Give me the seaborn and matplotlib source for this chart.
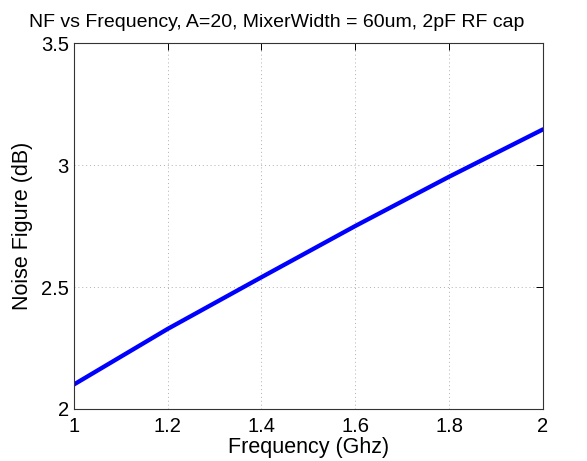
import matplotlib
matplotlib.use("Agg")
import matplotlib.pyplot as plt
import seaborn as sns
import pandas as pd

# values
freq_ghz = [1.0, 1.2, 1.4, 1.6, 1.8, 2.0]
noise_figure_db = [2.10, 2.328, 2.54, 2.75, 2.952, 3.146]
x_ticks = [1, 1.2, 1.4, 1.6, 1.8, 2]
x_tick_labels = ["1", "1.2", "1.4", "1.6", "1.8", "2"]
y_ticks = [2, 2.5, 3, 3.5]
y_tick_labels = ["2", "2.5", "3", "3.5"]

df = pd.DataFrame({"freq": freq_ghz, "nf": noise_figure_db})

sns.set_style("white")
plt.rcParams["font.family"] = ["Liberation Sans", "DejaVu Sans"]
plt.rcParams["text.color"] = "black"
plt.rcParams["axes.labelcolor"] = "black"

fig = plt.figure(figsize=(5.87, 4.61), dpi=100)
ax = fig.add_axes([0.1256, 0.1128, 0.7994, 0.7939])

sns.lineplot(data=df, x="freq", y="nf", color="#0000ff", linewidth=3.1, ax=ax)

ax.set_xlim(1, 2)
ax.set_ylim(2, 3.5)
ax.set_xticks(x_ticks)
ax.set_xticklabels(x_tick_labels)
ax.set_yticks(y_ticks)
ax.set_yticklabels(y_tick_labels)
ax.grid(True, linestyle=(0, (1, 3)), color="#b0b0b0", linewidth=0.7)
ax.tick_params(direction="in", length=5, width=0.7, top=True, right=True,
               labelsize=14.5, colors="black")
ax.tick_params(axis="x", pad=5.5)
ax.tick_params(axis="y", pad=3.5)
for s in ax.spines.values():
    s.set_visible(True)
    s.set_color("#333333")
    s.set_linewidth(0.8)

# MATLAB-style title, sits slightly left of the axes centre
fig.text(0.471, 0.9414, "NF vs Frequency, A=20, MixerWidth = 60um, 2pF RF cap",
         fontsize=14, ha="center", va="baseline", color="black")
ax.set_xlabel("Frequency (Ghz)", fontsize=15.5, labelpad=1)
ax.set_ylabel("Noise Figure (dB)", fontsize=15.5, labelpad=6)

fig.savefig("out.png", dpi=100)
plt.close(fig)
